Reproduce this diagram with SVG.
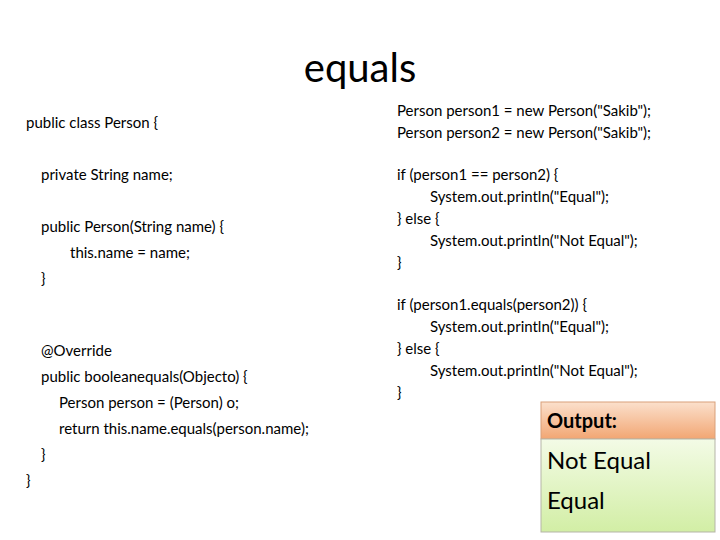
<svg xmlns="http://www.w3.org/2000/svg" width="720" height="540" viewBox="0 0 720 540">
<defs>
<linearGradient id="hg" x1="0" y1="0" x2="0" y2="1"><stop offset="0" stop-color="#fbe0cc"/><stop offset="1" stop-color="#f2a673"/></linearGradient>
<linearGradient id="bg" x1="0" y1="0" x2="0" y2="1"><stop offset="0" stop-color="#f3fbe6"/><stop offset="1" stop-color="#d2eea5"/></linearGradient>
</defs>
<style>
text{font-family:Lato,"Liberation Sans",sans-serif;fill:#000}
.c{font-size:15px}
.o{font-size:24px}
</style>
<rect width="720" height="540" fill="#fff"/>
<text x="360" y="82" text-anchor="middle" font-size="40">equals</text>
<g id="left" class="c">
<text x="26" y="128">public class Person {</text>
<text x="41" y="180">private String name;</text>
<text x="41" y="232">public Person(String name) {</text>
<text x="70" y="258">this.name = name;</text>
<text x="41" y="284">}</text>
<text x="41" y="356">@Override</text>
<text x="41" y="382">public booleanequals(Objecto) {</text>
<text x="59" y="408">Person person = (Person) o;</text>
<text x="59" y="434">return this.name.equals(person.name);</text>
<text x="41" y="460">}</text>
<text x="26" y="486">}</text>
</g>
<g id="right" class="c">
<text x="397" y="116">Person person1 = new Person("Sakib");</text>
<text x="397" y="138">Person person2 = new Person("Sakib");</text>
<text x="397" y="180">if (person1 == person2) {</text>
<text x="430" y="202">System.out.println("Equal");</text>
<text x="397" y="224">} else {</text>
<text x="430" y="246">System.out.println("Not Equal");</text>
<text x="397" y="268">}</text>
<text x="397" y="310">if (person1.equals(person2)) {</text>
<text x="430" y="332">System.out.println("Equal");</text>
<text x="397" y="354">} else {</text>
<text x="430" y="376">System.out.println("Not Equal");</text>
<text x="397" y="398">}</text>
</g>
<g id="output">
<rect x="541" y="402" width="174" height="37" fill="url(#hg)" stroke="#d9a07a"/>
<rect x="541" y="439" width="174" height="93" fill="url(#bg)" stroke="#b5b5a8"/>
<text x="547" y="428" font-size="20" font-weight="bold">Output:</text>
<text x="547" y="469" class="o">Not Equal</text>
<text x="547" y="509" class="o">Equal</text>
</g>
</svg>
